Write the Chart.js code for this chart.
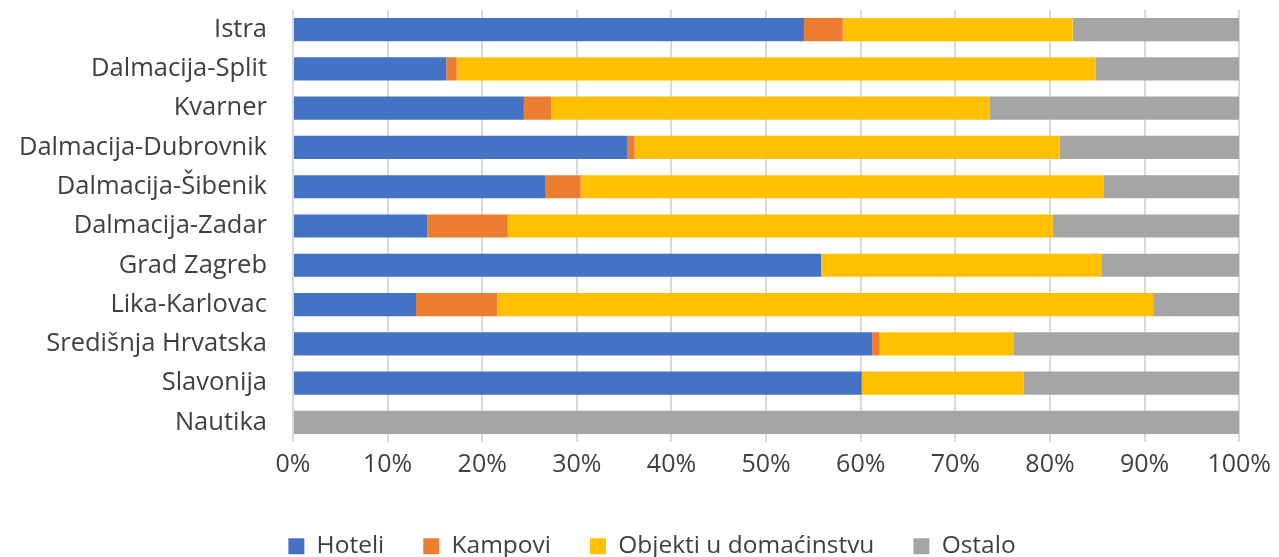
<!DOCTYPE html>
<html>
<head>
<meta charset="utf-8">
<script src="https://cdn.jsdelivr.net/npm/chart.js@4"></script>
<style>
html,body{margin:0;padding:0;background:#fff;}
#wrap{width:1279px;height:557px;}
</style>
</head>
<body>
<div id="wrap"><canvas id="c" width="1279" height="557"></canvas></div>
<script>
const categories = ["Istra","Dalmacija-Split","Kvarner","Dalmacija-Dubrovnik","Dalmacija-Šibenik","Dalmacija-Zadar","Grad Zagreb","Lika-Karlovac","Središnja Hrvatska","Slavonija","Nautika"];
const hoteli   = [54.0, 16.2, 24.4, 35.3, 26.7, 14.2, 55.8, 13.0, 61.2, 60.1, 0];
const kampovi  = [4.1, 1.1, 2.9, 0.8, 3.7, 8.5, 0, 8.6, 0.8, 0, 0];
const objekti  = [24.3, 67.5, 46.3, 44.9, 55.3, 57.6, 29.7, 69.3, 14.2, 17.1, 0];
const ostalo   = [17.6, 15.2, 26.4, 19.0, 14.3, 19.7, 14.5, 9.1, 23.8, 22.8, 100];
const xTicks   = [0,10,20,30,40,50,60,70,80,90,100];
const seriesNames = ["Hoteli","Kampovi","Objekti u domaćinstvu","Ostalo"];
const colors = ["#4472C4","#ED7D31","#FFC000","#A5A5A5"];

const FONT = "'Open Sans', sans-serif";
const TXT = "#404040";

const data = {
  labels: categories,
  datasets: [hoteli,kampovi,objekti,ostalo].map((d,i)=>({
    label: seriesNames[i],
    data: d,
    backgroundColor: colors[i],
    borderWidth: 0,
    barPercentage: 0.59,
    categoryPercentage: 1.0
  }))
};

const legendFix = {
  id: 'legendFix',
  beforeInit(chart) {
    const origFit = chart.legend.fit;
    chart.legend.fit = function () {
      origFit.bind(this)();
      this.height = 62;
    };
  },
  afterLayout(chart) {
    chart.legend.left += 32;
    chart.legend.right += 32;
  }
};

new Chart(document.getElementById('c'), {
  type: 'bar',
  data,
  plugins: [legendFix],
  options: {
    indexAxis: 'y',
    responsive: false,
    animation: false,
    layout: { padding: { top: 10, right: 39, left: 0, bottom: 0 } },
    plugins: {
      tooltip: { enabled: false },
      legend: {
        position: 'bottom',
        labels: {
          color: TXT,
          font: { family: FONT, size: 24.5 },
          boxWidth: 16, boxHeight: 16,
          padding: 39
        }
      }
    },
    scales: {
      x: {
        stacked: true,
        min: 0, max: 100,
        afterBuildTicks: (s) => { s.ticks = xTicks.map(v=>({value:v})); },
        ticks: {
          color: TXT,
          font: { family: FONT, size: 25 },
          padding: 8,
          maxRotation: 0,
          callback: (v) => v + '%'
        },
        grid: { color: '#D9D9D9', lineWidth: 2, drawTicks: false },
        border: { display: false },
        afterFit: (s) => { s.height = 53; }
      },
      y: {
        stacked: true,
        ticks: {
          color: TXT,
          font: { family: FONT, size: 25.5 },
          padding: 26,
          autoSkip: false
        },
        grid: { display: false, drawTicks: false },
        border: { display: false },
        afterFit: (s) => { s.width = 293; s.paddingTop = 0; s.paddingBottom = 0; }
      }
    }
  }
});
</script>
</body>
</html>
